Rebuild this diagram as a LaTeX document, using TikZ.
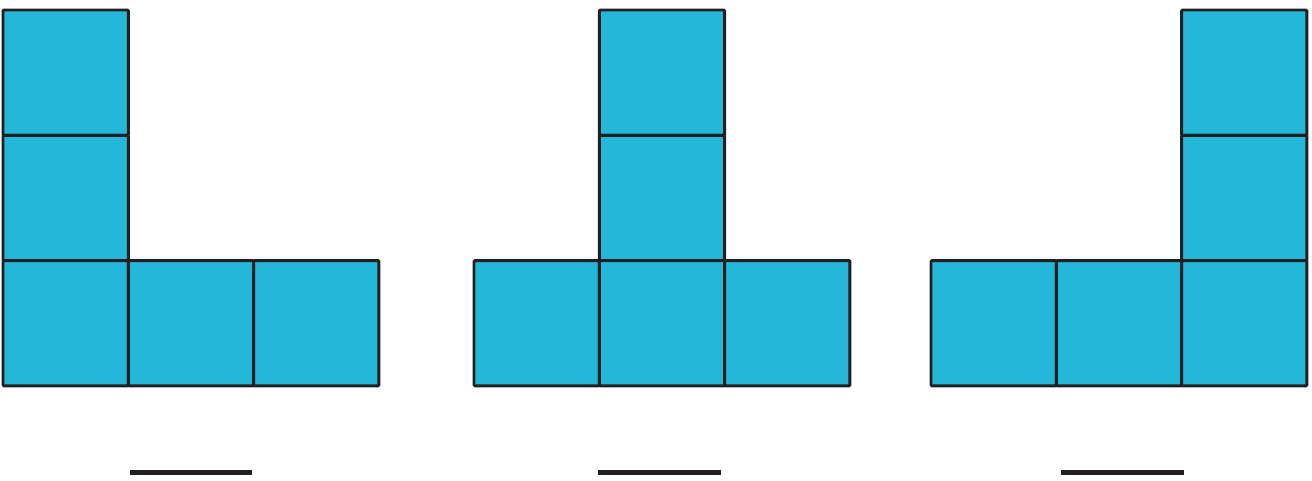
\documentclass[tikz,border=0pt]{standalone}
\begin{document}
\begin{tikzpicture}[x=0.75pt,y=-0.75pt,
  cell/.style={draw=edgecol,fill=cyanfill,line width=2.2pt,rounded corners=0.8pt},
  blank/.style={draw=edgecol,line width=3.8pt}]
\definecolor{cyanfill}{HTML}{23B8D9}
\definecolor{edgecol}{HTML}{231F20}
\useasboundingbox (0,0) rectangle (1312,480);
\def\s{125.3}
% group 1
\foreach \i/\x/\y in {a/3/10,b/3/135.3,c/3/260.6,d/128.3/260.6,e/253.6/260.6}
  \draw[cell] (\x,\y) rectangle ++(\s,\s) node[coordinate] (g1\i) {};
% group 2
\foreach \i/\x/\y in {a/599.3/10,b/599.3/135.3,c/474/260.6,d/599.3/260.6,e/724.6/260.6}
  \draw[cell] (\x,\y) rectangle ++(\s,\s) node[coordinate] (g2\i) {};
% group 3
\foreach \i/\x/\y in {a/1181.6/10,b/1181.6/135.3,c/931/260.6,d/1056.3/260.6,e/1181.6/260.6}
  \draw[cell] (\x,\y) rectangle ++(\s,\s) node[coordinate] (g3\i) {};
% answer blanks
\coordinate (l1a) at (130,472.5); \coordinate (l1b) at (252,472.5);
\coordinate (l2a) at (598,472.5); \coordinate (l2b) at (721,472.5);
\coordinate (l3a) at (1061,472.5); \coordinate (l3b) at (1184,472.5);
\draw[blank] (l1a) -- (l1b);
\draw[blank] (l2a) -- (l2b);
\draw[blank] (l3a) -- (l3b);
\end{tikzpicture}
\end{document}
